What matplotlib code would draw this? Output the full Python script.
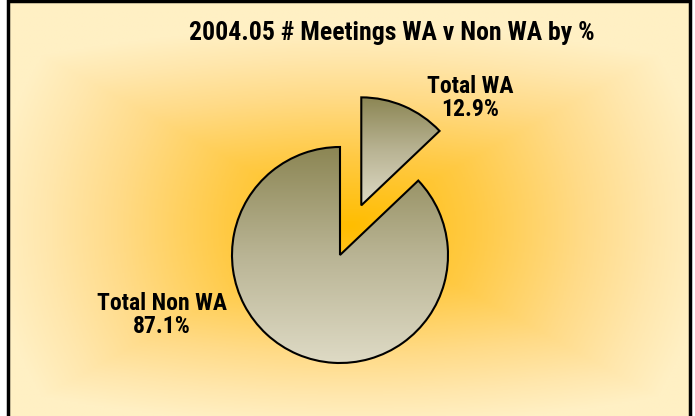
import numpy as np
import matplotlib.pyplot as plt
from matplotlib.patches import Rectangle
from matplotlib.colors import LinearSegmentedColormap

plt.rcParams['font.family'] = ['Roboto Condensed', 'DejaVu Sans']

title = '2004.05 # Meetings WA v Non WA by %'
labels = ['Total WA', 'Total Non WA']
shares = [12.9, 87.1]
explode = [0.5, 0.0]

W, H = 695, 416
fig = plt.figure(figsize=(W / 100, H / 100), dpi=100)
ax = fig.add_axes([0, 0, 1, 1])

# background: orange in the middle fading to pale yellow
bg = LinearSegmentedColormap.from_list(
    'bg', [(0, '#ffbd00'), (0.35, '#ffca45'), (0.65, '#ffdb88'), (0.85, '#ffe7ad'), (1, '#fff0c4')])
xx, yy = np.meshgrid(np.linspace(8, 690, 500), np.linspace(0, 416, 320))
dx, dy = (xx - 350) / 360, (yy - 190) / 200
t = 0.6 * np.maximum(np.abs(dx), np.abs(dy)) + 0.4 * np.hypot(dx, dy)
ax.imshow(np.clip(t, 0, 1), cmap=bg, extent=(8, 690, 0, 416), origin='lower',
          aspect='auto', vmin=0, vmax=1, zorder=0)
ax.add_patch(Rectangle((8, -5), 682, 420, fill=False, ec='black', lw=2.5, zorder=5))

r = 108
wedges, _ = ax.pie(shares, explode=[e * r for e in explode], startangle=90,
                   counterclock=False, center=(340, 161), radius=r,
                   wedgeprops=dict(ec='black', lw=1.5, fc='none'))

grad = LinearSegmentedColormap.from_list('sl', ['#dedac5', '#b9b494', '#8c8654'])
for w in wedges:
    w.set_zorder(3)
    bb = w.get_path().get_extents(w.get_patch_transform())
    g = np.linspace(0, 1, 200).reshape(-1, 1)
    im = ax.imshow(g, cmap=grad, extent=(bb.x0, bb.x1, bb.y0, bb.y1), origin='lower',
                   aspect='auto', zorder=2)
    im.set_clip_path(w)

ax.text(392, 383, title, ha='center', va='center', fontsize=18.5, fontweight='bold')
ax.text(470, 318, labels[0] + '\n' + f'{shares[0]:.1f}%', ha='center', va='center',
        fontsize=17, fontweight='bold', linespacing=1.05)
ax.text(162, 101, labels[1] + '\n' + f'{shares[1]:.1f}%', ha='center', va='center',
        fontsize=17, fontweight='bold', linespacing=1.05)

ax.set_xlim(0, W)
ax.set_ylim(0, H)
ax.set_aspect('auto')
ax.axis('off')
fig.savefig('out.png', dpi=100, facecolor='white')
